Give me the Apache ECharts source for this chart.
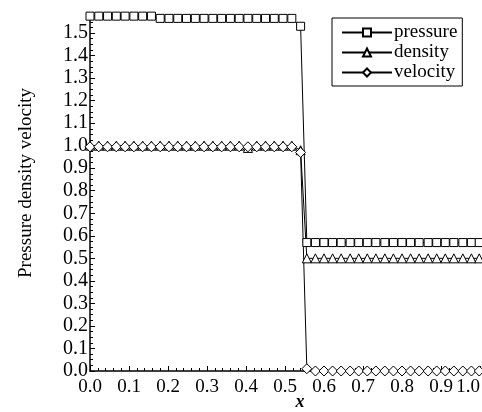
<!DOCTYPE html>
<html>
<head>
<meta charset="utf-8">
<script src="https://cdn.jsdelivr.net/npm/echarts@6/dist/echarts.min.js"></script>
<style>
html, body { margin: 0; padding: 0; background: #fff; }
#main { width: 482px; height: 412px; }
</style>
</head>
<body>
<div id="main"></div>
<script>
// grid points (x)
var xs = [0.000, 0.0225, 0.045, 0.0675, 0.09, 0.1125, 0.135, 0.1575, 0.18, 0.2025,
  0.225, 0.2475, 0.27, 0.2925, 0.315, 0.3375, 0.36, 0.3825, 0.405, 0.4275,
  0.45, 0.4725, 0.495, 0.5175, 0.54,
  0.556, 0.578, 0.600, 0.622, 0.644, 0.667, 0.689, 0.711, 0.733, 0.756,
  0.778, 0.800, 0.822, 0.844, 0.867, 0.889, 0.911, 0.933, 0.956, 0.978, 0.998];

var pressure = [1.575, 1.575, 1.575, 1.575, 1.575, 1.575, 1.575, 1.575, 1.565, 1.565,
  1.565, 1.565, 1.565, 1.565, 1.565, 1.565, 1.565, 1.565, 1.565, 1.565,
  1.565, 1.565, 1.565, 1.565, 1.53,
  0.57, 0.57, 0.57, 0.57, 0.57, 0.57, 0.57, 0.57, 0.57, 0.57,
  0.57, 0.57, 0.57, 0.57, 0.57, 0.57, 0.57, 0.57, 0.57, 0.57, 0.57];

var density = [1.0, 1.0, 1.0, 1.0, 1.0, 1.0, 1.0, 1.0, 1.0, 1.0,
  1.0, 1.0, 1.0, 1.0, 1.0, 1.0, 1.0, 1.0, 0.99, 1.0,
  1.0, 1.0, 1.0, 1.0, 0.98,
  0.50, 0.50, 0.50, 0.50, 0.50, 0.50, 0.50, 0.50, 0.50, 0.50,
  0.50, 0.50, 0.50, 0.50, 0.50, 0.50, 0.50, 0.50, 0.50, 0.50, 0.50];

var velocity = [0.995, 0.995, 0.995, 0.995, 0.995, 0.995, 0.995, 0.995, 0.995, 0.995,
  0.995, 0.995, 0.995, 0.995, 0.995, 0.995, 0.995, 0.995, 0.995, 0.995,
  0.995, 0.995, 0.995, 0.995, 0.97,
  0.01, 0.0, 0.0, 0.0, 0.0, 0.0, 0.0, 0.0, 0.0, 0.0,
  0.0, 0.0, 0.0, 0.0, 0.0, 0.0, 0.0, 0.0, 0.0, 0.0, 0.0];

var names = ["pressure", "density", "velocity"];
var symbols = ["rect", "triangle", "diamond"];

function pairs(vals) {
  return xs.map(function (x, i) { return [x, vals[i]]; });
}

function tickLabel(v) {
  // only label multiples of 0.1
  if (Math.abs(v * 10 - Math.round(v * 10)) > 1e-6) return "";
  return v.toFixed(1);
}

var serif = "Liberation Serif";

var myChart = echarts.init(document.getElementById("main"));

var seriesVals = [pressure, density, velocity];
var symSizes = [8, 9, 10];

myChart.setOption({
  animation: false,
  grid: { left: 90, top: 15, right: 2, bottom: 41, outerBoundsMode: "none" },
  legend: {
    orient: "vertical",
    left: 332,
    top: 18,
    padding: [5, 5, 4, 9],
    itemGap: 1,
    itemWidth: 50,
    itemHeight: 10,
    borderColor: "#000",
    borderWidth: 1,
    backgroundColor: "#fff",
    textStyle: { fontFamily: serif, fontSize: 19, color: "#000", padding: [0, 0, 0, -3] },
    data: names
  },
  xAxis: {
    type: "value",
    min: 0,
    max: 1.0,
    interval: 0.1,
    name: "x",
    nameLocation: "middle",
    nameGap: 22,
    nameMoveOverlap: false,
    nameTextStyle: { fontFamily: serif, fontSize: 18, fontStyle: "italic", fontWeight: "bold", color: "#000", padding: [0, 0, 0, 30] },
    axisLine: { lineStyle: { color: "#000", width: 1.5 } },
    axisTick: { inside: true, length: 5, lineStyle: { color: "#000" } },
    minorTick: { show: true, splitNumber: 5, length: 3, lineStyle: { color: "#000" } },
    splitLine: { show: false },
    axisLabel: { fontFamily: serif, fontSize: 19, color: "#000", margin: 7, formatter: tickLabel, alignMaxLabel: "right" }
  },
  yAxis: {
    type: "value",
    min: 0,
    max: 1.58,
    interval: 0.1,
    name: "Pressure density velocity",
    nameLocation: "middle",
    nameGap: 54,
    nameMoveOverlap: false,
    nameTextStyle: { fontFamily: serif, fontSize: 19, color: "#000", padding: [0, 0, 0, 20] },
    axisLine: { lineStyle: { color: "#000", width: 1.5 } },
    axisTick: { inside: true, length: 5, lineStyle: { color: "#000" } },
    minorTick: { show: true, splitNumber: 4, length: 3, lineStyle: { color: "#000" } },
    splitLine: { show: false },
    axisLabel: { fontFamily: serif, fontSize: 20, color: "#000", margin: 2, formatter: tickLabel }
  },
  series: names.map(function (n, k) {
    return {
      name: n,
      type: "line",
      data: pairs(seriesVals[k]),
      symbol: symbols[k],
      symbolSize: symSizes[k],
      showAllSymbol: true,
      lineStyle: { color: "#000", width: 1 },
      itemStyle: { color: "#fff", borderColor: "#000", borderWidth: 1 }
    };
  })
});
</script>
</body>
</html>
